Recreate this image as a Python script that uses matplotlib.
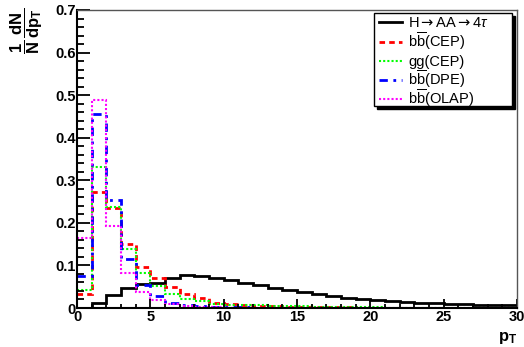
import numpy as np
import matplotlib
matplotlib.use('Agg')
import matplotlib.pyplot as plt
from matplotlib.lines import Line2D
from matplotlib.patches import Rectangle
from matplotlib.ticker import MultipleLocator

plt.rcParams['font.family'] = ['Liberation Sans', 'DejaVu Sans']
plt.rcParams['mathtext.fontset'] = 'custom'
plt.rcParams['mathtext.rm'] = 'Liberation Sans'
plt.rcParams['mathtext.bf'] = 'Liberation Sans:bold'
plt.rcParams['mathtext.it'] = 'Liberation Sans:italic'
plt.rcParams['mathtext.sf'] = 'DejaVu Sans'

W, H = 524, 347

# bin edges, pT in 1 GeV steps
edges = np.arange(0, 31)

h_4tau = [0.0, 0.012, 0.030, 0.046, 0.056, 0.059, 0.070, 0.077, 0.075, 0.071,
          0.066, 0.059, 0.054, 0.048, 0.042, 0.038, 0.033, 0.028, 0.024, 0.021,
          0.019, 0.016, 0.014, 0.0125, 0.011, 0.0094, 0.009, 0.008, 0.007, 0.006]
bb_cep = [0.033, 0.273, 0.236, 0.150, 0.097, 0.071, 0.050, 0.032, 0.023, 0.0125,
          0.009, 0.007, 0.005, 0.004, 0.003, 0.003, 0.002, 0.002, 0.002, 0.001,
          0.001, 0.001, 0.001, 0.001, 0.0, 0.0, 0.0, 0.0, 0.0, 0.0]
gg_cep = [0.042, 0.332, 0.238, 0.138, 0.083, 0.052, 0.034, 0.020, 0.017, 0.009,
          0.008, 0.007, 0.006, 0.005, 0.004, 0.004, 0.003, 0.003, 0.002, 0.002,
          0.002, 0.001, 0.001, 0.001, 0.001, 0.001, 0.001, 0.0, 0.0, 0.0]
bb_dpe = [0.075, 0.455, 0.254, 0.114, 0.054, 0.028, 0.0125, 0.007, 0.004, 0.003,
          0.002, 0.002, 0.001, 0.001, 0.001, 0.0, 0.0, 0.0, 0.0, 0.0,
          0.0, 0.0, 0.0, 0.0, 0.0, 0.0, 0.0, 0.0, 0.0, 0.0]
bb_olap = [0.164, 0.489, 0.193, 0.083, 0.038, 0.019, 0.009, 0.005, 0.003, 0.002,
           0.001, 0.001, 0.0, 0.0, 0.0, 0.0, 0.0, 0.0, 0.0, 0.0,
           0.0, 0.0, 0.0, 0.0, 0.0, 0.0, 0.0, 0.0, 0.0, 0.0]

labels = [r'H$\mathsf{\rightarrow}$AA$\mathsf{\rightarrow}$4$\tau$',
          r'b$\overline{\mathrm{b}}$(CEP)',
          r'gg(CEP)',
          r'b$\overline{\mathrm{b}}$(DPE)',
          r'b$\overline{\mathrm{b}}$(OLAP)']

series = [h_4tau, bb_cep, gg_cep, bb_dpe, bb_olap]
styles = [dict(color='black', linewidth=2, linestyle='-'),
          dict(color='#ff0000', linewidth=2, linestyle=(0, (2, 1.5))),
          dict(color='#00ff00', linewidth=1.5, linestyle=(0, (1, 1))),
          dict(color='#0000ff', linewidth=2, linestyle=(0, (3, 2, 1, 2))),
          dict(color='#ff00ff', linewidth=1.5, linestyle=(0, (1, 1)))]


def fx(px):
    return px / W


def fy(py):
    return 1 - py / H


fig = plt.figure(figsize=(W / 100, H / 100), dpi=100)
ax = fig.add_axes([fx(77), fy(308), 440 / W, 298 / H])

for vals, st, lab in zip(series, styles, labels):
    ax.stairs(vals, edges, baseline=None, label=lab, **st)

ax.set_xlim(0, 30)
ax.set_ylim(0, 0.7)

ax.xaxis.set_major_locator(MultipleLocator(5))
ax.xaxis.set_minor_locator(MultipleLocator(1))
ax.yaxis.set_major_locator(MultipleLocator(0.1))
ax.yaxis.set_minor_locator(MultipleLocator(0.02))
ax.yaxis.set_major_formatter(lambda v, p: '0' if abs(v) < 1e-9 else f'{v:.1f}')

ax.tick_params(axis='both', which='both', direction='in', top=False, right=False,
               width=1.3, labelsize=10.5)
ax.tick_params(axis='y', which='major', length=9.3, pad=1)
ax.tick_params(axis='y', which='minor', length=4.7)
ax.tick_params(axis='x', which='major', length=6.5, pad=1.5)
ax.tick_params(axis='x', which='minor', length=3.2)
for t in ax.get_xticklabels() + ax.get_yticklabels():
    t.set_fontweight('bold')

for s in ['left', 'bottom']:
    ax.spines[s].set_linewidth(1.5)
    ax.spines[s].set_color('black')
for s in ['top', 'right']:
    ax.spines[s].set_linewidth(1)
    ax.spines[s].set_color('#555555')

ax.set_xlabel(r'$\mathbf{p_{T}}$', fontsize=12, loc='right', labelpad=4)
fig.text(fx(9), fy(8),
         r'$\dfrac{\mathbf{1}}{\mathbf{N}}\,\dfrac{\mathbf{dN}}{\mathbf{dp_{T}}}$',
         fontsize=12, rotation=90, ha='left', va='top')

# legend box (ROOT style, with solid shadow)
bx0, by0, bx1, by1 = 374, 13, 512, 106
fig.add_artist(Rectangle((fx(bx0 + 3), fy(by1 + 3)), (bx1 - bx0) / W, (by1 - by0) / H,
                         transform=fig.transFigure, facecolor='black',
                         edgecolor='black', zorder=5))
fig.add_artist(Rectangle((fx(bx0), fy(by1)), (bx1 - bx0) / W, (by1 - by0) / H,
                         transform=fig.transFigure, facecolor='white',
                         edgecolor='black', linewidth=1, zorder=6))
row_y = [22, 41.5, 60.5, 79.5, 98.5]
for ry, st, lab in zip(row_y, styles, labels):
    fig.add_artist(Line2D([fx(379), fx(402)], [fy(ry), fy(ry)],
                          transform=fig.transFigure, zorder=7, **st))
    fig.text(fx(408), fy(ry + 5.2), lab, fontsize=10.5, ha='left', va='baseline',
             zorder=7)

fig.savefig('out.png', dpi=100)
